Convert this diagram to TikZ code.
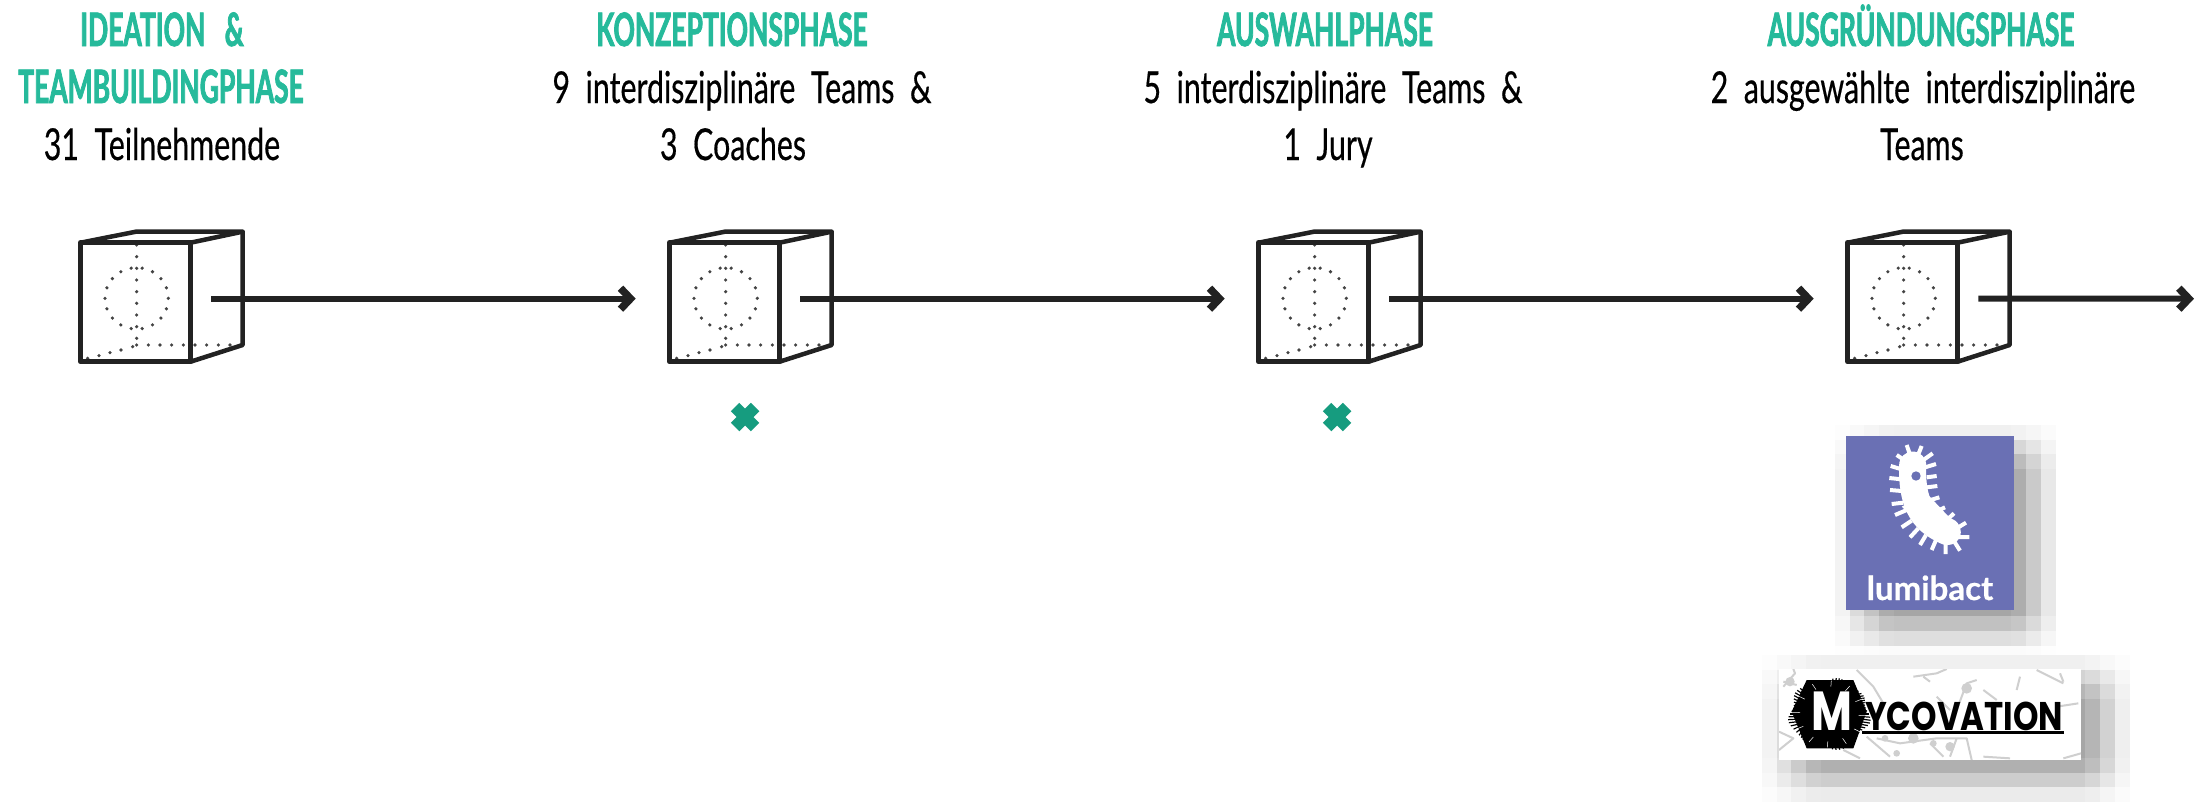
\documentclass[tikz,border=0pt]{standalone}
\usepackage{fontspec}
\usepackage{graphicx}
\usetikzlibrary{arrows.meta}
\newfontfamily\headfont[FakeStretch=0.575,BoldFeatures={FakeBold=1.7}]{Lato}
\newfontfamily\phasefont[FakeStretch=0.69,FakeBold=0.4]{Lato}
\newfontfamily\brandfont[BoldFeatures={FakeBold=0.6}]{Lato}
\newfontfamily\mycofont[FakeStretch=0.81]{Poppins}
\definecolor{headgreen}{HTML}{26BA9B}
\definecolor{markgreen}{HTML}{169C7F}
\definecolor{lineblack}{HTML}{222222}
\definecolor{lumiblue}{HTML}{6A70B4}
\definecolor{branchgrey}{HTML}{CFCFCF}
\newcommand{\blurshadow}[8]{%
  \pgfmathsetmacro{\nxc}{int((#4-#1)/14.7)}
  \pgfmathsetmacro{\nyc}{int((#8-#5)/14.7)}
  \foreach \ci in {0,...,\nxc}{
    \foreach \cj in {0,...,\nyc}{
      \pgfmathsetmacro{\cx}{#1+14.7*\ci}
      \pgfmathsetmacro{\cy}{#5+14.7*\cj}
      \pgfmathsetmacro{\fa}{min(1,max(0,(\cx+7.35-#1)/(#2-#1)))*min(1,max(0,(#4-\cx-7.35)/(#4-#3)))}
      \pgfmathsetmacro{\fb}{min(1,max(0,(\cy+7.35-#5)/(#6-#5)))*min(1,max(0,(#8-\cy-7.35)/(#8-#7)))}
      \pgfmathsetmacro{\shd}{35*\fa*\fb}
      \fill[black!\shd!white] (\cx,\cy) rectangle ++(15,15);
    }
  }
}
\tikzset{
  x=1pt,y=-1pt,
  headtext/.style={anchor=base,inner sep=0pt,text=headgreen,font=\headfont\bfseries\fontsize{46}{46}\selectfont},
  bodytext/.style={anchor=base,inner sep=0pt,text=black,font=\phasefont\fontsize{44}{44}\selectfont},
  flow/.style={draw=lineblack,line width=6pt,-{Straight Barb[length=10pt,width=21pt,line width=7.5pt]}},
  dropmark/.style={draw=markgreen,line width=12pt},
  cubedot/.style={fill=lineblack!85},
  pics/phasecube/.style={code={
    \begin{scope}[x=1pt/3,y=-1pt/3]
      \foreach \a in {0,20,...,340}{\fill[cubedot] ({260+95*cos(\a)},{265+92*sin(\a)}) circle[radius=1.8pt];}
      \foreach \p in {105,140,175,210,245,280,315,350,385,405}{\fill[cubedot] (260,\p) circle[radius=1.8pt];}
      \foreach \p in {295,330,365,400,435,470,505,540}{\fill[cubedot] (\p,405) circle[radius=1.8pt];}
      \fill[cubedot] (248,410) circle[radius=1.8pt] (213,420) circle[radius=1.8pt] (180,428) circle[radius=1.8pt] (147,437) circle[radius=1.8pt] (113,445) circle[radius=1.8pt];
      \draw[lineblack,line width=4.5pt,line join=round] (92,98) -- (258,65) -- (578,65) -- (422,98);
      \draw[lineblack,line width=4.5pt,line join=round] (578,65) -- (578,405) -- (422,455);
      \draw[lineblack,line width=5.5pt,line join=round] (92,98) rectangle (422,455);
      \coordinate (-out) at (484,266);
      \coordinate (-in) at (-10,266);
    \end{scope}
  }}
}
\begin{document}
\begin{tikzpicture}
\useasboundingbox (0,0) rectangle (2203,801);
\clip (0,0) rectangle (2203,801);
% texts
\node[headtext] (h1a) at (162,46) {IDEATION\ \ \ \&};
\node[headtext] (h1b) at (161,103) {TEAMBUILDINGPHASE};
\node[bodytext] (t1) at (162,160) {31\ \ Teilnehmende};
\node[headtext] (h2) at (732,46) {KONZEPTIONSPHASE};
\node[bodytext] (t2a) at (742,103) {9\ \ interdisziplinäre\ \ Teams\ \ \&};
\node[bodytext] (t2b) at (733,160) {3\ \ Coaches};
\node[headtext] (h3) at (1325,46) {AUSWAHLPHASE};
\node[bodytext] (t3a) at (1333,103) {5\ \ interdisziplinäre\ \ Teams\ \ \&};
\node[bodytext] (t3b) at (1328,160) {1\ \ Jury};
\node[headtext] (h4) at (1921,46) {AUSGRÜNDUNGSPHASE};
\node[bodytext] (t4a) at (1923,103) {2\ \ ausgewählte\ \ interdisziplinäre};
\node[bodytext] (t4b) at (1922,160) {Teams};
% cubes
\pic (c1) at (50,210) {phasecube};
\pic (c2) at (639,210) {phasecube};
\pic (c3) at (1228,210) {phasecube};
\pic (c4) at (1817,210) {phasecube};
\coordinate (endpoint) at (2194,298.7);
\draw[flow] (c1-out) -- (c2-in);
\draw[flow] (c2-out) -- (c3-in);
\draw[flow] (c3-out) -- (c4-in);
\draw[flow] (c4-out) -- (endpoint);
% marks
\draw[dropmark] (735,407) -- (755,427) (735,427) -- (755,407);
\draw[dropmark] (1327,407) -- (1347,427) (1327,427) -- (1347,407);
% shadows
\blurshadow{1835}{1890}{2015}{2060}{425}{470}{610}{655}
\blurshadow{1762}{1818}{2085}{2130}{655}{700}{760}{805}
% lumibact logo
\begin{scope}[shift={(1750,410)},x=1pt/3,y=-1pt/3]
  \fill[lumiblue] (288,78) rectangle (792,600);
  \draw[white,line width=27pt,line cap=round] (488,165) .. controls (485,270) and (510,330) .. (592,365);
  \fill[white] (455,290) -- (530,250) -- (610,335) -- (560,395) -- cycle;
  \draw[white,line width=4pt]
    (470,105)--(482,140) (515,108)--(502,140) (548,130)--(520,150) (558,162)--(525,172)
    (560,198)--(530,202) (562,228)--(530,232) (568,262)--(535,272) (585,292)--(550,308)
    (612,310)--(585,335) (648,338)--(615,358) (658,381)--(625,381) (630,422)--(610,390)
    (587,432)--(587,395) (545,420)--(558,390) (510,405)--(528,375) (480,382)--(505,355)
    (455,352)--(485,332) (435,315)--(470,300) (425,282)--(460,278) (420,240)--(455,243)
    (418,204)--(455,208) (422,168)--(455,178) (440,135)--(470,155);
  \fill[lumiblue] (498,198) circle[radius=14];
  \node[anchor=base,inner sep=0pt,text=white,font=\brandfont\bfseries\fontsize{33}{33}\selectfont] (lumibrand) at (540,570) {lumibact};
\end{scope}
% mycovation logo
\begin{scope}[shift={(1750,410)},x=1pt/3,y=-1pt/3]
  \fill[white] (87,777) rectangle (993,1050);
  \begin{scope}
    \clip (87,777) rectangle (993,1050);
    \draw[branchgrey,line width=2pt,line join=round]
      (100,830)--(135,790)--(130,777) (100,815)--(140,825) (320,780)--(370,830)--(400,880)
      (490,800)--(560,790)--(590,777) (520,800)--(540,815) (620,900)--(650,820)--(680,810)
      (860,780)--(900,800)--(940,820) (930,790)--(940,815) (800,840)--(810,800)
      (87,965)--(130,985)--(87,1020) (350,980)--(420,1040) (380,985)--(450,1000)
      (450,1000)--(560,985)--(650,985)--(665,1050) (540,1000)--(580,1040)
      (620,985)--(600,1040) (700,1040)--(780,1045) (940,1045)--(993,1030)
      (920,890)--(985,880) (560,860)--(600,900) (700,840)--(740,870) (280,1020)--(330,1045);
    \fill[branchgrey] (490,985) circle[radius=16] (600,1010) circle[radius=14] (650,835) circle[radius=16] (120,815) circle[radius=14] (440,1030) circle[radius=10] (550,1000) circle[radius=10] (405,985) circle[radius=10];
  \end{scope}
  \fill[black] (125,905) -- (170,810) -- (310,810) -- (350,905) -- (310,1015) -- (170,1015) -- cycle;
  \foreach \a in {0,5,...,355}{
    \draw[black,line width=1.2pt] ({238+100*cos(\a)},{912+90*sin(\a)}) -- ({238+(118+8*sin(7*\a))*cos(\a)},{912+(103+8*cos(5*\a))*sin(\a)});
  }
  \foreach \a in {3,33,...,353}{
    \draw[white,line width=0.5pt] ({238+88*cos(\a)},{912+82*sin(\a)}) -- ({238+112*cos(\a)},{912+100*sin(\a)});
  }
  \node[anchor=base,inner sep=0pt,text=white,font=\mycofont\bfseries\fontsize{55}{55}\selectfont] (mycom) at (245,960) {M};
  \node[anchor=base west,inner sep=0pt,text=black,font=\mycofont\bfseries\fontsize{40}{40}\selectfont] (mycotext) at (345,960) {YCOVATION};
  \fill[black] (335,963) rectangle (942,972);
\end{scope}
\end{tikzpicture}
\end{document}
